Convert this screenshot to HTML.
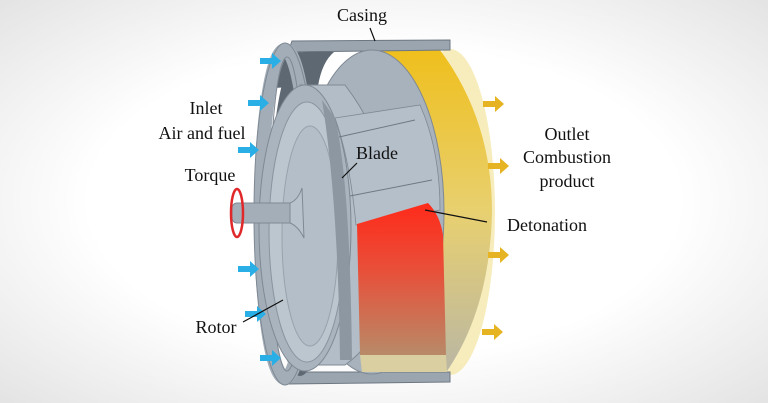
<!DOCTYPE html>
<html><head><meta charset="utf-8"><style>
html,body{margin:0;padding:0;}
body{width:768px;height:403px;overflow:hidden;background:#fff;}
svg{display:block;}
text{font-family:"Liberation Serif",serif;font-size:18px;fill:#111;}
</style></head><body>
<svg width="768" height="403" viewBox="0 0 768 403">
<defs>
<radialGradient id="bg" cx="50%" cy="50%" r="70%">
<stop offset="0.55" stop-color="#ffffff"/><stop offset="1" stop-color="#e4e4e4"/>
</radialGradient>
<linearGradient id="yel" x1="0" y1="0" x2="0" y2="1">
<stop offset="0" stop-color="#efbf1c"/><stop offset="0.5" stop-color="#e8d070"/><stop offset="1" stop-color="#b9b6a4"/>
</linearGradient>
<linearGradient id="red" x1="0" y1="0" x2="0" y2="1">
<stop offset="0" stop-color="#ff2a1a"/><stop offset="0.45" stop-color="#e8503a"/><stop offset="1" stop-color="#b88a68"/>
</linearGradient>
</defs>
<rect width="768" height="403" fill="url(#bg)"/>
<ellipse cx="450" cy="212" rx="45" ry="163" fill="#f3e6a0" opacity="0.7"/>
<path d="M360 50 L440 50 Q492 120 492 212 Q490 310 445 374 L360 374 Z" fill="url(#yel)"/>
<path d="M292 41 L450 40 L450 50 L288 52 Z" fill="#9aa5b0" stroke="#6d7782" stroke-width="1"/>
<path d="M292 372 L450 372 L450 382 L288 384 Z" fill="#9aa5b0" stroke="#6d7782" stroke-width="1"/>
<ellipse cx="300" cy="214" rx="30" ry="162" fill="#5e6873"/>
<ellipse cx="372" cy="212" rx="72" ry="162" fill="#a8b2bd" stroke="#7f8994"/>
<!-- dark interior patch top -->
<path d="M282 56 Q300 50 334 52 Q322 62 318 86 L272 88 Z" fill="#5e6873"/>
<ellipse cx="285" cy="214" rx="24" ry="164" fill="none" stroke="#a3adb7" stroke-width="14"/>
<ellipse cx="285" cy="214" rx="31" ry="171" fill="none" stroke="#7f8994" stroke-width="1"/>
<ellipse cx="287" cy="214" rx="17" ry="157" fill="none" stroke="#7f8994" stroke-width="1"/>
<path d="M300 85 L345 85 Q395 150 395 240 Q395 330 345 365 L300 365 Z" fill="#b3bdc7" stroke="#7f8994"/>
<ellipse cx="305" cy="228" rx="46" ry="143" fill="#aab4be" stroke="#7f8994"/>
<ellipse cx="307" cy="232" rx="38" ry="130" fill="#bcc6cf" stroke="#8a949f"/>
<ellipse cx="310" cy="236" rx="28" ry="110" fill="#b4bec8" stroke="#98a2ac"/>
<path d="M322 100 L335 118 Q350 180 352 360 L340 360 Q338 200 322 100 Z" fill="#8c97a2"/>
<path d="M335 118 L420 105 Q440 150 440 210 L356 225 Q350 160 335 118 Z" fill="#b5bfc9" stroke="#7f8994" stroke-width="0.8"/>
<line x1="339" y1="137" x2="415" y2="120" stroke="#6f7984"/>
<line x1="350" y1="196" x2="432" y2="180" stroke="#6f7984"/>
<path d="M357 224 L428 203 Q440 215 443 235 L446 355 L360 355 Z" fill="url(#red)"/>
<path d="M360 355 L446 355 L447 372 L362 372 Z" fill="#d9cfa0"/>
<rect x="232" y="203" width="62" height="20" rx="5" fill="#a4aeb8" stroke="#7f8994"/>
<path d="M290 203 Q298 200 302 188 L304 238 Q298 226 290 223 Z" fill="#b8c2cc" stroke="#7f8994"/>
<ellipse cx="237" cy="213" rx="6" ry="24" fill="none" stroke="#e0282a" stroke-width="2.5"/>
<g fill="#2aaee6">
<path d="M260 58 h12 v-5 l9 8 -9 8 v-5 h-12 z"/>
<path d="M248 100 h12 v-5 l9 8 -9 8 v-5 h-12 z"/>
<path d="M238 147 h12 v-5 l9 8 -9 8 v-5 h-12 z"/>
<path d="M238 266 h12 v-5 l9 8 -9 8 v-5 h-12 z"/>
<path d="M245 311 h12 v-5 l9 8 -9 8 v-5 h-12 z"/>
<path d="M260 355 h12 v-5 l9 8 -9 8 v-5 h-12 z"/>
</g>
<g fill="#e6b422">
<path d="M483 101 h12 v-5 l9 8 -9 8 v-5 h-12 z"/>
<path d="M488 163 h12 v-5 l9 8 -9 8 v-5 h-12 z"/>
<path d="M488 252 h12 v-5 l9 8 -9 8 v-5 h-12 z"/>
<path d="M482 329 h12 v-5 l9 8 -9 8 v-5 h-12 z"/>
</g>
<g stroke="#111" stroke-width="1.2">
<line x1="370" y1="28" x2="375" y2="41"/>
<line x1="357" y1="163" x2="342" y2="178"/>
<line x1="425" y1="210" x2="487" y2="222"/>
<line x1="243" y1="322" x2="283" y2="300"/>
</g>
<text x="362" y="21" text-anchor="middle">Casing</text>
<text x="206" y="114" text-anchor="middle">Inlet</text>
<text x="202" y="139" text-anchor="middle">Air and fuel</text>
<text x="210" y="181" text-anchor="middle">Torque</text>
<text x="377" y="159" text-anchor="middle">Blade</text>
<text x="567" y="140" text-anchor="middle">Outlet</text>
<text x="567" y="163" text-anchor="middle">Combustion</text>
<text x="567" y="187" text-anchor="middle">product</text>
<text x="547" y="231" text-anchor="middle">Detonation</text>
<text x="216" y="333" text-anchor="middle">Rotor</text>
</svg>
</body></html>
